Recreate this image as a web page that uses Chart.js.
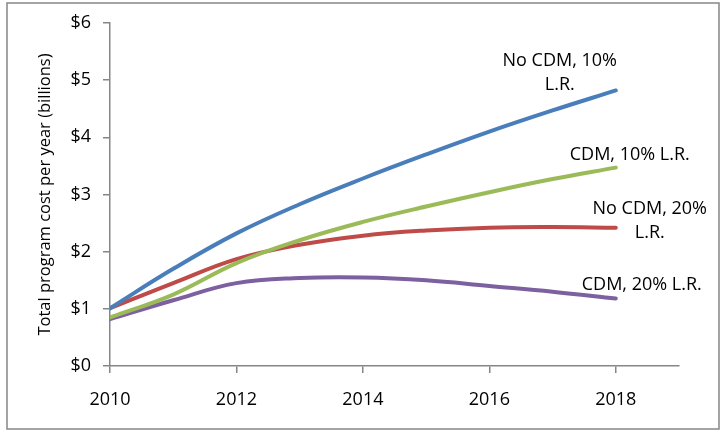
<!DOCTYPE html>
<html>
<head>
<meta charset="utf-8">
<script src="https://cdn.jsdelivr.net/npm/chart.js@4.4.1/dist/chart.umd.min.js"></script>
<style>
  html, body { margin: 0; padding: 0; background: #fff; }
  #wrap { width: 726px; height: 432px; }
</style>
</head>
<body>
<div id="wrap"><canvas id="costChart" width="726" height="432"></canvas></div>
<script>
// values (billions $ per year)
const years = [2010, 2011, 2012, 2013, 2014, 2015, 2016, 2017, 2018];
const noCdm10 = [1.01, 1.70, 2.32, 2.83, 3.28, 3.70, 4.10, 4.47, 4.82];
const cdm10   = [0.85, 1.25, 1.80, 2.20, 2.52, 2.79, 3.04, 3.27, 3.47];
const noCdm20 = [1.01, 1.45, 1.87, 2.12, 2.28, 2.37, 2.42, 2.43, 2.42];
const cdm20   = [0.82, 1.15, 1.45, 1.54, 1.55, 1.50, 1.40, 1.30, 1.18];

const xTicks = [2010, 2012, 2014, 2016, 2018];
const yTicks = [0, 1, 2, 3, 4, 5, 6];

const seriesLabels = [
    ['No CDM, 10%', 'L.R.'],
    ['CDM, 10% L.R.'],
    ['No CDM, 20%', 'L.R.'],
    ['CDM, 20% L.R.']
];
// label offsets from the last point of each line, in px
const labelOffsets = [
    { dx: -56, dy: -30 },
    { dx: 14, dy: -13 },
    { dx: 34, dy: -19 },
    { dx: 26, dy: -14 }
];

const FONT = "'Open Sans', 'DejaVu Sans', sans-serif";
const AXIS_GREY = '#868686';

function toPoints(vals) {
    return vals.map((v, i) => ({ x: years[i], y: v }));
}

const endLabels = {
    id: 'endLabels',
    afterDatasetsDraw(chart) {
        const ctx = chart.ctx;
        ctx.save();
        ctx.font = '18px ' + FONT;
        ctx.fillStyle = '#000';
        ctx.textAlign = 'center';
        ctx.textBaseline = 'middle';
        chart.data.datasets.forEach((ds, i) => {
            const meta = chart.getDatasetMeta(i);
            const last = meta.data[meta.data.length - 1];
            const off = labelOffsets[i];
            seriesLabels[i].forEach((line, j) => {
                ctx.fillText(line, last.x + off.dx, last.y + off.dy + j * 24);
            });
        });
        ctx.restore();
    }
};

const outerBorder = {
    id: 'outerBorder',
    afterDraw(chart) {
        const ctx = chart.ctx;
        ctx.save();
        ctx.strokeStyle = AXIS_GREY;
        ctx.lineWidth = 1.5;
        ctx.strokeRect(7, 3, 712, 426);
        ctx.restore();
    }
};

function lineSet(label, vals, color) {
    return {
        label: label,
        data: toPoints(vals),
        borderColor: color,
        backgroundColor: color,
        borderWidth: 4,
        borderCapStyle: 'round',
        pointRadius: 0,
        tension: 0.4,
        fill: false
    };
}

new Chart(document.getElementById('costChart'), {
    type: 'line',
    data: {
        datasets: [
            lineSet('No CDM, 10% L.R.', noCdm10, '#4A7EBB'),
            lineSet('CDM, 10% L.R.', cdm10, '#9BBB59'),
            lineSet('No CDM, 20% L.R.', noCdm20, '#BE4B48'),
            lineSet('CDM, 20% L.R.', cdm20, '#7D60A0')
        ]
    },
    options: {
        responsive: false,
        animation: false,
        layout: { padding: { left: 0, right: 47, top: 23, bottom: 0 } },
        plugins: {
            legend: { display: false },
            tooltip: { enabled: false }
        },
        scales: {
            x: {
                type: 'linear',
                min: 2010,
                max: 2019,
                afterBuildTicks: s => { s.ticks = xTicks.map(v => ({ value: v })); },
                afterFit: s => { s.height = 66; },
                ticks: {
                    padding: 16,
                    color: '#000',
                    font: { family: FONT, size: 18 },
                    callback: v => String(v),
                    maxRotation: 0
                },
                grid: { drawOnChartArea: false, drawTicks: true, tickLength: 7, color: AXIS_GREY, lineWidth: 1.5 },
                border: { display: true, color: AXIS_GREY, width: 1.5 }
            },
            y: {
                min: 0,
                max: 6,
                afterBuildTicks: s => { s.ticks = yTicks.map(v => ({ value: v })); },
                afterFit: s => { s.width = 110; },
                ticks: {
                    padding: 12,
                    color: '#000',
                    font: { family: FONT, size: 18 },
                    callback: v => '$' + v
                },
                title: {
                    display: true,
                    text: 'Total program cost per year (billions)',
                    color: '#000',
                    font: { family: FONT, size: 16.5 },
                    padding: { top: 35, bottom: 0 }
                },
                grid: { drawOnChartArea: false, drawTicks: true, tickLength: 7, color: AXIS_GREY, lineWidth: 1.5 },
                border: { display: true, color: AXIS_GREY, width: 1.5 }
            }
        }
    },
    plugins: [endLabels, outerBorder]
});
</script>
</body>
</html>
